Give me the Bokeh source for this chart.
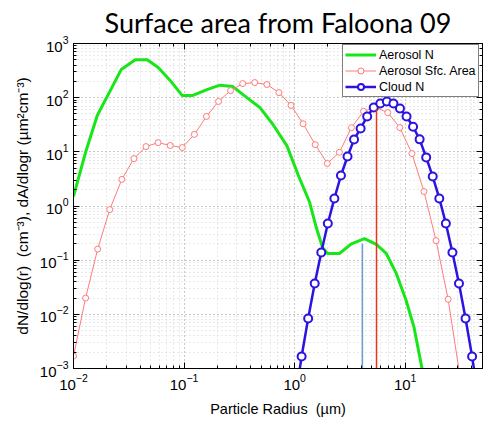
from bokeh.plotting import figure
from bokeh.models import LogAxis, Legend, LegendItem, Title, CustomJSTickFormatter
from bokeh.embed import file_html
from bokeh.resources import INLINE

# Aerosol number distribution, dN/dlog(r) [cm^-3]
aer_r = [0.010, 0.0128, 0.0164, 0.0211, 0.027, 0.0362, 0.0464, 0.0584, 0.0748, 0.096,
         0.12, 0.161, 0.211, 0.276, 0.37, 0.484, 0.63, 0.85, 1.09, 1.36, 1.57, 1.79,
         1.98, 2.54, 3.26, 4.28, 5.48, 6.74, 8.3, 10.2, 12.0, 14.5]
aer_n = [1.5, 9.5, 47, 125, 330, 500, 500, 360, 208, 110,
         110, 141, 170, 160, 100, 66, 33, 13, 3.5, 1.2, 0.4, 0.17,
         0.133, 0.133, 0.2, 0.25, 0.195, 0.133, 0.057, 0.018, 0.0058, 0.0008]

# Aerosol surface area distribution, dA/dlog(r) [um^2 cm^-3]
sfc_r = [0.0100, 0.01286, 0.01654, 0.02128, 0.02736, 0.03519, 0.04526, 0.05821, 0.07487,
         0.0963, 0.1239, 0.1593, 0.2049, 0.2635, 0.3389, 0.4359, 0.5607, 0.7212, 0.9277,
         1.193, 1.535, 1.974, 2.539, 3.266, 4.201, 5.403, 6.949, 8.938, 11.50, 14.78,
         19.01, 24.45, 31.45]
sfc_a = [0.0017, 0.020, 0.16, 0.86, 3.1, 7.5, 12.5, 14.8, 13.1,
         12, 21, 45, 85, 135, 182, 190, 175, 124, 72,
         33, 13.6, 6.1, 9.8, 28, 56, 66, 53, 28, 9.3, 1.85,
         0.23, 0.019, 0.00066]

# Cloud droplet number distribution, dN/dlog(r) [cm^-3]
cld_r = [1.0086, 1.156, 1.325, 1.519, 1.741, 1.996, 2.288, 2.623, 3.007, 3.446, 3.951,
         4.529, 5.191, 5.951, 6.822, 7.820, 8.965, 10.28, 11.78, 13.50, 15.48, 17.74,
         20.34, 23.32, 26.73, 30.64, 35.13, 40.27, 46.15]
cld_n = [0.00026, 0.00166, 0.0084, 0.037, 0.139, 0.475, 1.38, 3.66, 8.2, 16.9, 27,
         45, 66, 78, 85, 78, 63, 45, 29, 17, 7.9, 3.5,
         1.38, 0.475, 0.139, 0.037, 0.0084, 0.00166, 0.00026]

# Marker radii (vertical lines)
mark_r = [4.1, 5.5]
mark_top = [0.2, 62]
mark_color = ["#6b9bd0", "#e8341c"]

FONT = "Liberation Sans"

p = figure(width=488, height=421, x_axis_type="log", y_axis_type="log",
           x_range=(0.01, 50), y_range=(1e-3, 1e3),
           output_backend="svg", toolbar_location=None,
           min_border_left=73, min_border_right=6, min_border_top=43, min_border_bottom=53)
p.title = Title(text="Surface area from Faloona 09", align="center", vertical_align="top",
                text_font="Lato", text_font_size="27px", text_font_style="normal",
                text_color="black", standoff=5)
p.outline_line_color = "black"
p.outline_line_width = 1
p.background_fill_color = "white"
p.border_fill_color = "white"

for ax in (p.xaxis[0], p.yaxis[0]):
    ax.major_tick_in = 6
    ax.major_tick_out = 0
    ax.minor_tick_in = 3
    ax.minor_tick_out = 0
    ax.axis_line_color = "black"
    ax.major_tick_line_color = "black"
    ax.minor_tick_line_color = "black"
    ax.major_label_text_font = FONT
    ax.major_label_text_font_size = "15px"
    ax.major_label_text_color = "black"
    ax.axis_label_text_font = FONT
    ax.axis_label_text_font_style = "normal"
    ax.axis_label_text_color = "black"

p.xaxis[0].axis_label = "Particle Radius\u00a0 (\u00b5m)"
p.yaxis[0].axis_label = "dN/dlog(r)\u00a0 (cm\u207b\u00b3), dA/dlogr (\u00b5m\u00b2cm\u207b\u00b3)"
p.xaxis[0].axis_label_text_font_size = "14.5px"
p.yaxis[0].axis_label_text_font_size = "15.5px"
p.xaxis[0].axis_label_standoff = 8
p.yaxis[0].axis_label_standoff = 6

# box ticks on top and right
blank = CustomJSTickFormatter(code="return ''")
for side in ("above", "right"):
    ax = LogAxis(formatter=blank, major_tick_in=6, major_tick_out=0,
                 minor_tick_in=3, minor_tick_out=0, axis_line_color="black",
                 major_label_text_font_size="0px")
    p.add_layout(ax, side)

for g in (p.xgrid[0], p.ygrid[0]):
    g.grid_line_color = "#b4b4b4"
    g.grid_line_dash = "1 3"
    g.grid_line_width = 1
    g.minor_grid_line_color = "#d2d2d2"
    g.minor_grid_line_dash = "1 3"
    g.minor_grid_line_width = 1

green = "#19e619"
pink = "#ff7a7a"
blue = "#2b13e0"

r_aer = p.line(aer_r, aer_n, line_color=green, line_width=3)

r_sfc = p.line(sfc_r, sfc_a, line_color=pink, line_width=1)
r_sfc_m = p.scatter(sfc_r, sfc_a, marker="circle", size=6, line_color=pink,
                    fill_color="white", line_width=1)

r_cld = p.line(cld_r, cld_n, line_color=blue, line_width=2.5)
r_cld_m = p.scatter(cld_r, cld_n, marker="circle", size=8, line_color=blue,
                    fill_color="white", line_width=2)

p.segment(x0=mark_r, y0=[1e-3, 1e-3], x1=mark_r, y1=mark_top,
          line_color=mark_color, line_width=1.5)

legend = Legend(items=[
    LegendItem(label="Aerosol N", renderers=[r_aer]),
    LegendItem(label="Aerosol Sfc. Area", renderers=[r_sfc, r_sfc_m]),
    LegendItem(label="Cloud N", renderers=[r_cld, r_cld_m]),
], location=(269, 271))
legend.label_text_font = FONT
legend.label_text_font_size = "12.5px"
legend.label_text_color = "black"
legend.glyph_width = 31
legend.glyph_height = 15
legend.label_height = 15
legend.label_standoff = 3
legend.spacing = 1
legend.padding = 2
legend.margin = 0
legend.border_line_color = "black"
legend.border_line_width = 1
legend.background_fill_alpha = 1
p.add_layout(legend)

open("out.html", "w").write(file_html(p, INLINE))
